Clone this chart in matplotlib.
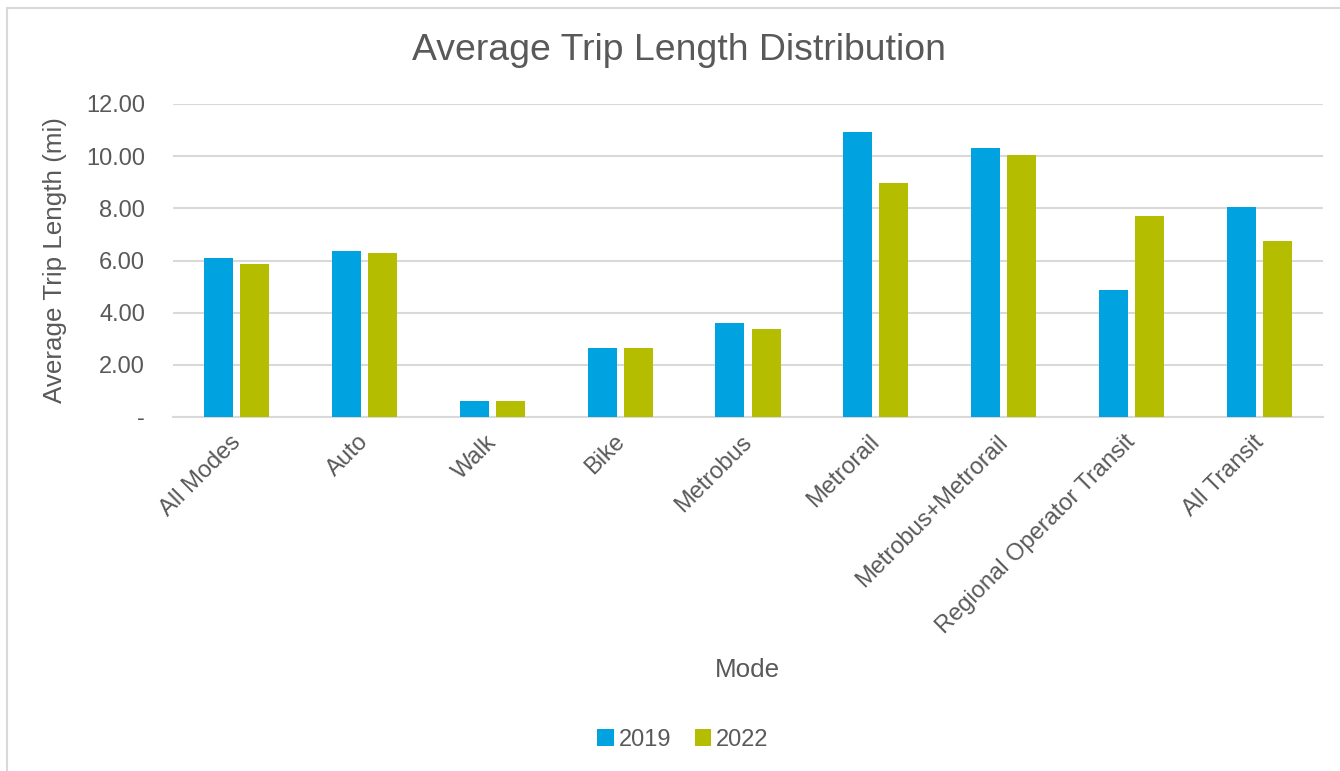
import matplotlib.pyplot as plt
import matplotlib.transforms as mtransforms
import numpy as np
from matplotlib.patches import Rectangle

# Average trip length (mi) by mode.
MODES = [
    'All Modes', 'Auto', 'Walk', 'Bike', 'Metrobus', 'Metrorail',
    'Metrobus+Metrorail', 'Regional Operator Transit', 'All Transit',
]
TRIP_2019 = [6.09, 6.38, 0.63, 2.63, 3.62, 10.92, 10.32, 4.85, 8.06]
TRIP_2022 = [5.88, 6.28, 0.60, 2.64, 3.37, 8.97, 10.03, 7.69, 6.73]
YEARS = ['2019', '2022']
YTICKS = [0, 2, 4, 6, 8, 10, 12]

BLUE = '#00A3E0'
GREEN = '#B5BD00'
TEXT = '#595959'
GRID = '#D9D9D9'

plt.rcParams['font.family'] = ['Liberation Sans', 'DejaVu Sans']

fig = plt.figure(figsize=(13.4, 7.71), dpi=100)
fig.patch.set_facecolor('white')
ax = fig.add_axes([173 / 1340, 1 - 417 / 771, (1323 - 173) / 1340, (417 - 104) / 771])

# outer chart-area frame (only left/top edges fall inside the picture)
fig.patches.append(Rectangle((7 / 1340, -0.1), 1.2, 1 - 8 / 771 + 0.1,
                             transform=fig.transFigure, fill=False,
                             edgecolor=GRID, linewidth=1.5))

x = np.arange(len(MODES))
bar_w = 0.227
off = 0.141
ax.bar(x - off, TRIP_2019, bar_w, color=BLUE, label=YEARS[0], zorder=3)
ax.bar(x + off, TRIP_2022, bar_w, color=GREEN, label=YEARS[1], zorder=3)

ax.set_xlim(-0.5, len(MODES) - 0.5)
ax.set_ylim(0, 12)
ax.set_yticks(YTICKS)
ax.set_yticklabels(['-' if v == 0 else f'{v:.2f}' for v in YTICKS])
ax.yaxis.grid(True, color=GRID, linewidth=1.5, zorder=0)
ax.set_axisbelow(True)
for s in ['top', 'right', 'left']:
    ax.spines[s].set_visible(False)
ax.spines['bottom'].set_color(GRID)
ax.spines['bottom'].set_linewidth(1.5)
ax.tick_params(axis='both', length=0, labelsize=17, colors=TEXT)
ax.tick_params(axis='y', pad=20)

ax.set_xticks(x)
ax.set_xticklabels(MODES, rotation=45, ha='right', va='top',
                   rotation_mode='anchor')
ax.tick_params(axis='x', pad=10)
# nudge the slanted labels a little left so they end under the tick
shift = mtransforms.ScaledTranslation(-7 / 100, 0, fig.dpi_scale_trans)
for lbl in ax.get_xticklabels():
    lbl.set_transform(lbl.get_transform() + shift)

ax.set_ylabel('Average Trip Length (mi)', fontsize=18.7, color=TEXT, labelpad=14)
fig.text(747 / 1340, 1 - 670 / 771, 'Mode', fontsize=18.7, color=TEXT,
         ha='center', va='center')
fig.text(679 / 1340, 1 - 50 / 771, 'Average Trip Length Distribution',
         fontsize=26.9, color=TEXT, ha='center', va='center')

leg = fig.legend(loc='center', bbox_to_anchor=(683 / 1340, 1 - 740 / 771),
                 ncol=2, frameon=False, fontsize=17, handlelength=0.7,
                 handleheight=0.7, handletextpad=0.2, columnspacing=1.0)
for t in leg.get_texts():
    t.set_color(TEXT)

fig.savefig('out.png', dpi=100, facecolor='white')
